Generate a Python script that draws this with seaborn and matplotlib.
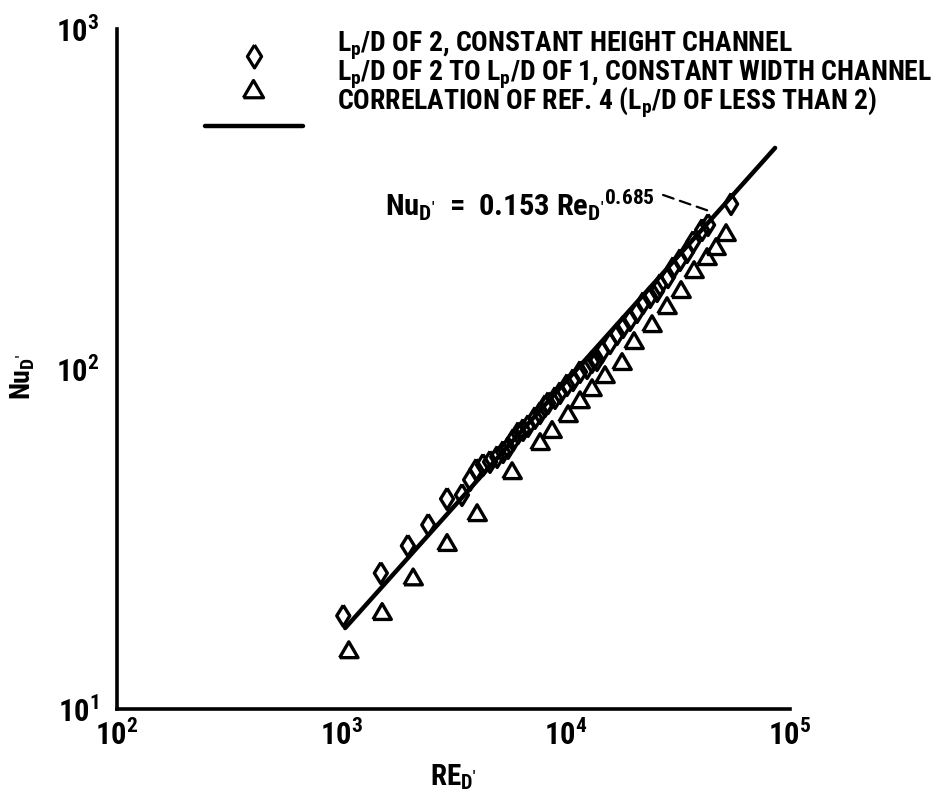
import numpy as np
import pandas as pd
import matplotlib
matplotlib.use("Agg")
import matplotlib.pyplot as plt
import seaborn as sns
from matplotlib import font_manager
from matplotlib.markers import MarkerStyle
from matplotlib.ticker import LogLocator, LogFormatterSciNotation, NullLocator, NullFormatter

# ---------------- data ----------------
re_diamond = [1020, 1500, 1980, 2440, 2960, 3450, 3750, 3990, 4280, 4600,
              4950, 5260, 5540, 5830, 6140, 6460, 6800, 7300, 7690, 8090,
              8350, 8970, 9440, 10140, 10790, 11590, 12460, 13110, 13800, 14530,
              15780, 16950, 18030, 19370, 20810, 22140, 23780, 25560, 26350, 28610,
              30120, 32360, 34770, 36980, 40560, 43130, 54630]
nu_diamond = [18.8, 25.1, 30.2, 34.8, 41.5, 42.6, 47.2, 50.5, 52.2, 53.3,
              55.1, 57.0, 58.6, 61.8, 64.8, 66.2, 68.0, 71.8, 74.2, 77.8,
              79.4, 82.2, 85.0, 89.7, 92.8, 98.0, 100.7, 104.9, 106.3, 112.2,
              119.2, 126.7, 132.9, 139.4, 147.1, 156.3, 162.8, 169.6, 176.6, 186.4,
              198.2, 209.2, 220.8, 236.3, 256.4, 265.2, 305.7]

re_triangle = [1080, 1520, 2090, 2960, 4030, 5770, 7690, 8700, 10250, 11590,
               13110, 14980, 17840, 20180, 24270, 28310, 32690, 37360, 42690,
               46820, 51890]
nu_triangle = [14.9, 19.3, 24.4, 30.8, 37.7, 50.1, 61.0, 66.2, 73.7, 81.0,
               87.9, 96.0, 104.9, 120.9, 135.6, 153.2, 170.8, 195.5, 213.5,
               228.5, 251.2]

re_corr = [1040, 85800]
nu_corr = [17.3, 447]

leader_re = [27180, 44950]
leader_nu = [325, 289.5]

legend_labels = ["L$_p$/D OF 2, CONSTANT HEIGHT CHANNEL",
                 "L$_p$/D OF 2 TO L$_p$/D OF 1, CONSTANT WIDTH CHANNEL",
                 "CORRELATION OF REF. 4 (L$_p$/D OF LESS THAN 2)"]
eq_label = "Nu$_{D'}$  =  0.153 Re$_{D'}{}^{0.685}$"
x_label = "RE$_{D'}$"
y_label = "Nu$_{D'}$"

# ---------------- style ----------------
sns.set_theme(style="white", rc={"axes.edgecolor": "black", "text.color": "black",
                                 "xtick.color": "black", "ytick.color": "black",
                                 "axes.labelcolor": "black"})
names = {f.name for f in font_manager.fontManager.ttflist}
cands = ["Liberation Sans Narrow", "Roboto Condensed", "Open Sans Condensed",
         "Noto Sans Condensed", "Arial Narrow", "Liberation Sans"]
fam = next((c for c in cands if c in names), "DejaVu Sans")
plt.rcParams["font.family"] = [fam, "DejaVu Sans"]
plt.rcParams["font.weight"] = "bold"
plt.rcParams["axes.labelweight"] = "bold"
plt.rcParams["mathtext.fontset"] = "custom"
plt.rcParams["mathtext.rm"] = fam + ":bold"
plt.rcParams["mathtext.it"] = fam + ":italic:bold"
plt.rcParams["mathtext.bf"] = fam + ":bold"
plt.rcParams["mathtext.sf"] = fam + ":bold"
plt.rcParams["mathtext.default"] = "regular"

W, H = 942, 802
fig = plt.figure(figsize=(W / 100, H / 100), dpi=100)
L, R, T, B = 117, 790, 29, 709
ax = fig.add_axes([L / W, 1 - B / H, (R - L) / W, (B - T) / H])

diamond = MarkerStyle(np.array([(0, 1), (0.62, 0), (0, -1), (-0.62, 0), (0, 1)]))
triangle = MarkerStyle(np.array([(-1, -0.82), (1, -0.82), (0, 0.9), (-1, -0.82)]))

df_d = pd.DataFrame({"Re": re_diamond, "Nu": nu_diamond})
df_t = pd.DataFrame({"Re": re_triangle, "Nu": nu_triangle})
df_c = pd.DataFrame({"Re": re_corr, "Nu": nu_corr})

sns.lineplot(data=df_c, x="Re", y="Nu", ax=ax, color="black", lw=3.2, zorder=2)
sns.scatterplot(data=df_d, x="Re", y="Nu", ax=ax, marker=diamond, s=228, zorder=3)
c1 = ax.collections[-1]
sns.scatterplot(data=df_t, x="Re", y="Nu", ax=ax, marker=triangle, s=175, zorder=3)
c2 = ax.collections[-1]
for c in (c1, c2):
    c.set_facecolor("none")
    c.set_edgecolor("black")
    c.set_linewidth(2.4)

ax.set_xscale("log")
ax.set_yscale("log")
ax.set_xlim(1e2, 1e5)
ax.set_ylim(1e1, 1e3)
for axis in (ax.xaxis, ax.yaxis):
    axis.set_major_locator(LogLocator(base=10, numticks=10))
    axis.set_minor_locator(LogLocator(base=10, subs=(2, 4, 6, 8), numticks=10))
    axis.set_major_formatter(LogFormatterSciNotation())
    axis.set_minor_formatter(NullFormatter())
ax.tick_params(which="major", direction="in", length=48 * 0.72, width=2.0, labelsize=22)
ax.tick_params(which="minor", direction="in", length=31 * 0.72, width=2.0)
ax.tick_params(axis="x", which="major", pad=8)
ax.tick_params(axis="y", which="major", pad=13)
for s in ("top", "right"):
    ax.spines[s].set_visible(False)
for s in ("left", "bottom"):
    ax.spines[s].set_linewidth(2.6)
ax.grid(False)

# overlay axes for the short (odd) minor ticks
ax2 = fig.add_axes(ax.get_position(), facecolor="none")
ax2.set_xscale("log")
ax2.set_yscale("log")
ax2.set_xlim(1e2, 1e5)
ax2.set_ylim(1e1, 1e3)
for axis in (ax2.xaxis, ax2.yaxis):
    axis.set_major_locator(NullLocator())
    axis.set_minor_locator(LogLocator(base=10, subs=(3, 5, 7, 9), numticks=10))
    axis.set_major_formatter(NullFormatter())
    axis.set_minor_formatter(NullFormatter())
ax2.tick_params(which="minor", direction="in", length=15 * 0.72, width=2.0)
for s in ax2.spines.values():
    s.set_visible(False)
ax2.patch.set_visible(False)
ax2.grid(False)

ax.set_xlabel(x_label, fontsize=21, fontweight="bold")
ax.set_ylabel(y_label, fontsize=20, fontweight="bold")
ax.xaxis.set_label_coords((453 - L) / (R - L), (B - 777) / (B - T))
ax.xaxis.label.set_va("center")
ax.yaxis.set_label_coords((23 - L) / (R - L), (B - 377) / (B - T))
ax.yaxis.label.set_va("center")

# correlation annotation
ax.annotate("", xy=(leader_re[1], leader_nu[1]), xytext=(leader_re[0], leader_nu[0]),
            arrowprops=dict(arrowstyle="-", linestyle=(0, (5, 3)), lw=1.6, color="black",
                            shrinkA=0, shrinkB=0))
eq = ax.text((655 - L) / (R - L), (B - 216) / (B - T), eq_label, transform=ax.transAxes,
             ha="right", va="baseline", fontsize=19)

# legend key block at the top
ax.plot([(254 - L) / (R - L)], [(B - 56) / (B - T)], transform=ax.transAxes, clip_on=False,
        marker=diamond, ms=16.5, mfc="none", mec="black", mew=2.3, ls="none")
ax.plot([(253 - L) / (R - L)], [(B - 89) / (B - T)], transform=ax.transAxes, clip_on=False,
        marker=triangle, ms=14.5, mfc="none", mec="black", mew=2.3, ls="none")
ax.plot([(205 - L) / (R - L), (303 - L) / (R - L)], [(B - 126) / (B - T)] * 2,
        transform=ax.transAxes, clip_on=False, color="black", lw=3.2)
leg_texts = []
for i, lab in enumerate(legend_labels):
    ybase = [52, 81, 110][i]
    leg_texts.append(ax.text((337 - L) / (R - L), (B - ybase) / (B - T), lab,
                             transform=ax.transAxes, ha="left", va="baseline", fontsize=19))

# fit text widths to the reference widths
fig.canvas.draw()
rend = fig.canvas.get_renderer()
w2 = leg_texts[1].get_window_extent(rend).width
fs_leg = min(21, 19 * 596 / w2)
for t in leg_texts:
    t.set_fontsize(fs_leg)
weq = eq.get_window_extent(rend).width
eq.set_fontsize(min(22, 19 * 270 / weq))

fig.savefig("out.png", dpi=100)
